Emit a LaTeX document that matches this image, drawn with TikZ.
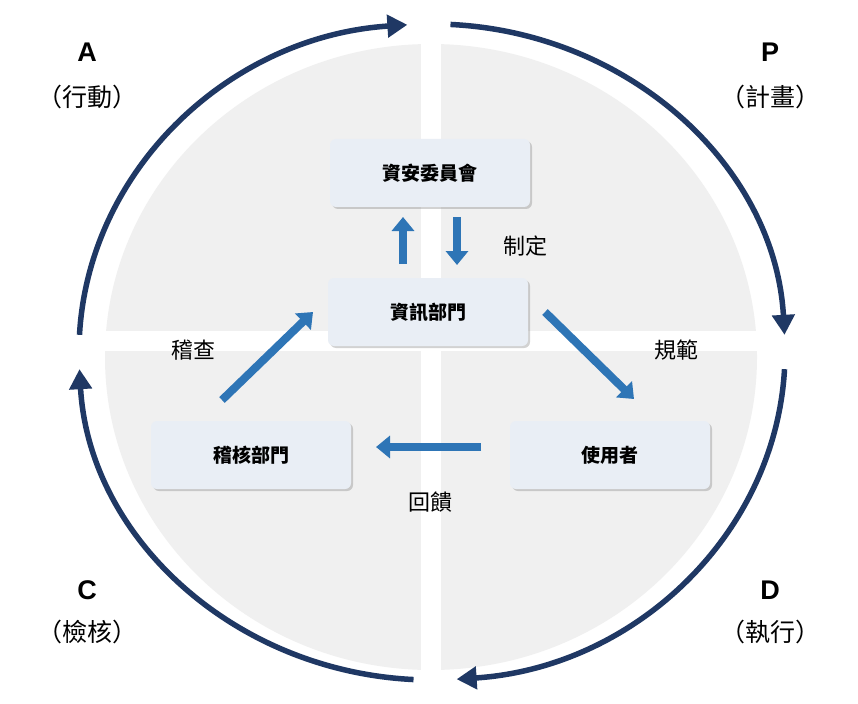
\documentclass[tikz,border=0pt]{standalone}
\usepackage{fontspec}
\setmainfont{Liberation Sans}
\newfontfamily\cjk{Noto Sans CJK TC}
\usetikzlibrary{arrows.meta,shadows}
\definecolor{navy}{HTML}{1F3864}
\definecolor{bblue}{HTML}{2E75B6}
\definecolor{boxf}{HTML}{E9EEF5}
\definecolor{quad}{HTML}{F0F0F0}
\tikzset{
 box/.style={draw=none,fill=boxf,rounded corners=6pt,minimum width=200pt,minimum height=68pt,font=\cjk\bfseries\fontsize{19}{22}\selectfont,drop shadow={shadow xshift=2pt,shadow yshift=-2pt,opacity=0.35}},
 barr/.style={bblue,line width=8pt,-{Triangle[length=14pt,width=22pt]}},
 ring/.style={navy,line width=5.5pt,-{Triangle[length=20pt,width=22pt]}},
 lbl/.style={font=\cjk\fontsize{22}{26}\selectfont},
 clbl/.style={font=\cjk\fontsize{25}{28}\selectfont},
 let/.style={font=\bfseries\fontsize{27}{30}\selectfont},
}
\begin{document}
\begin{tikzpicture}[x=1pt,y=-1pt]
\fill[white] (0,0) rectangle (858,703);
\useasboundingbox (0,0) rectangle (858,703);
\coordinate (c) at (432,352);
\fill[quad] (431,357) ellipse [x radius=326,y radius=313];
\fill[white] (421,30) rectangle (441,690);
\fill[white] (90,331) rectangle (780,351);
\draw[ring] ([shift={(177:353 and -328)}]c) arc[start angle=177,end angle=94,x radius=353,y radius=-328];
\draw[ring] ([shift={(87:353 and -328)}]c) arc[start angle=87,end angle=3,x radius=353,y radius=-328];
\draw[ring] ([shift={(-3:353 and -328)}]c) arc[start angle=-3,end angle=-86,x radius=353,y radius=-328];
\draw[ring] ([shift={(-93:353 and -328)}]c) arc[start angle=-93,end angle=-177,x radius=353,y radius=-328];
\node[box] (sec) at (430,173) {資安委員會};
\node[box] (it) at (428,312) {資訊部門};
\node[box] (aud) at (251,455) {稽核部門};
\node[box] (usr) at (610,455) {使用者};
\coordinate (u1) at (403,264); \coordinate (u2) at (403,217);
\coordinate (d1) at (457,217); \coordinate (d2) at (457,265);
\draw[barr] (u1) -- (u2);
\draw[barr] (d1) -- (d2);
\coordinate (a1) at (222,400); \coordinate (a2) at (313,312);
\draw[barr] (a1) -- (a2);
\coordinate (b1) at (545,312); \coordinate (b2) at (634,399);
\draw[barr] (b1) -- (b2);
\coordinate (h1) at (481,447); \coordinate (h2) at (376,447);
\draw[barr] (h1) -- (h2);
\node[lbl] (l1) at (525,246) {制定};
\node[lbl] (l2) at (676,350) {規範};
\node[lbl] (l3) at (193,350) {稽查};
\node[lbl] (l4) at (430,502) {回饋};
\node[let] (A) at (87,52) {A};
\node[clbl] (A2) at (87,97) {（行動）};
\node[let] (P) at (770,52) {P};
\node[clbl] (P2) at (770,97) {（計畫）};
\node[let] (C) at (87,590) {C};
\node[clbl] (C2) at (87,632) {（檢核）};
\node[let] (D) at (770,590) {D};
\node[clbl] (D2) at (770,632) {（執行）};
\end{tikzpicture}
\end{document}
